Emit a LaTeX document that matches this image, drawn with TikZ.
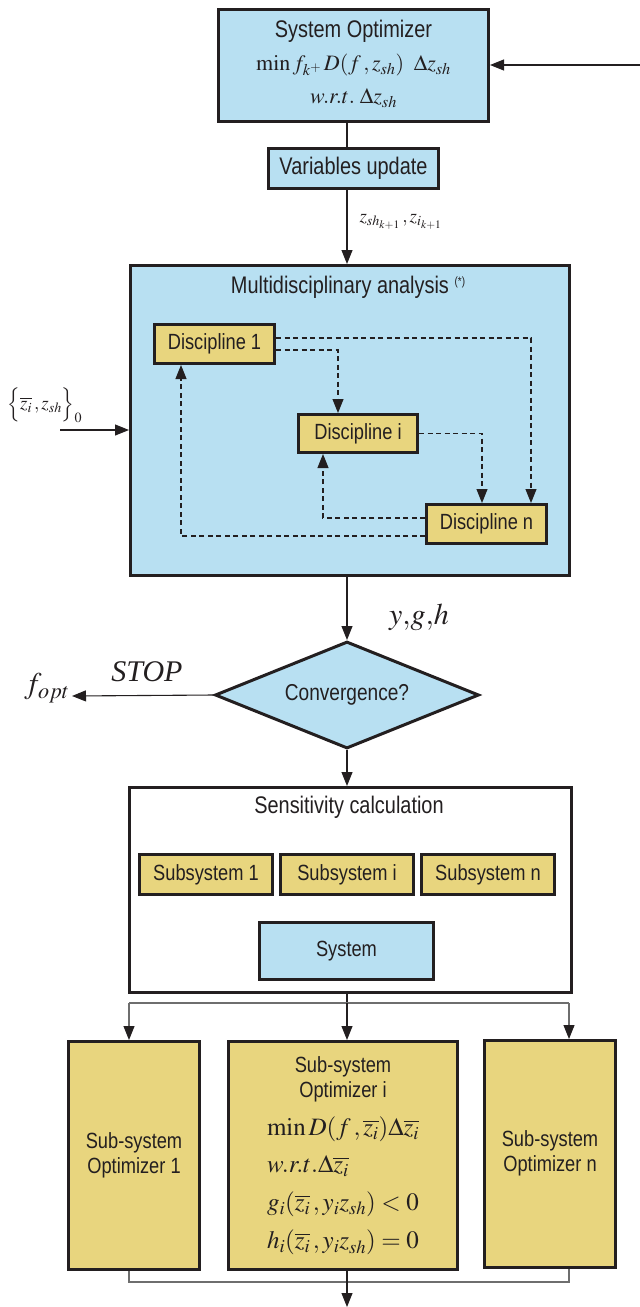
\documentclass[tikz,border=0pt]{standalone}
\usepackage{mathptmx}
\usepackage[no-math]{fontspec}
\setmainfont{Liberation Sans}[FakeStretch=0.83]
\newfontfamily\tms{Liberation Serif}
\usetikzlibrary{shapes.geometric,arrows.meta}
\definecolor{bl}{RGB}{184,224,242}
\definecolor{yl}{RGB}{232,213,126}
\definecolor{dk}{RGB}{35,31,32}
\definecolor{gr}{RGB}{110,110,110}
\begin{document}
\begin{tikzpicture}[x=1pt,y=-1pt,
  every node/.style={text=dk},
  tbox/.style={draw=dk, line width=3pt, inner sep=0pt, anchor=north west, font=\fontsize{24}{27}\selectfont},
  bluebox/.style={tbox, fill=bl},
  yelbox/.style={tbox, fill=yl, font=\fontsize{22}{25}\selectfont},
  tip/.style={-{Triangle[length=14pt,width=11pt,color=dk]}},
  ln/.style={draw=dk, line width=1.1pt},
  arr/.style={ln, tip},
  darr/.style={draw=dk, line width=1.1pt, dash pattern=on 5pt off 3.5pt, tip},
  grl/.style={draw=gr, line width=1.1pt},
  grarr/.style={grl, tip}]
\useasboundingbox (0,0) rectangle (640,1307);
\coordinate (ax) at (347,0);

% System optimizer
\node[bluebox, minimum width=270pt, minimum height=112pt] (sysopt) at (217,8)
  {\begin{tabular}{@{}c@{}}System Optimizer\\[6pt]
   {\fontsize{22}{27}\selectfont$\min f_{k^{+}}\, D(f\,,z_{sh})\;\;\Delta z_{sh}$}\\[6pt]
   {\fontsize{22}{27}\selectfont$w.r.t.\;\Delta z_{sh}$}\end{tabular}};
\coordinate (rin) at (640,65);
\draw[arr] (rin) -- (sysopt.east |- rin);

% Variables update
\node[bluebox, minimum width=170pt, minimum height=40pt] (varup) at (267,147) {Variables update};
\draw[ln] (sysopt.south -| ax) -- (varup.north -| ax);
\node[anchor=west, font=\fontsize{19}{22}\selectfont] (zlab) at (356,222) {$z_{sh_{k+1}}\,,z_{i_{k+1}}$};

% Multidisciplinary analysis
\node[bluebox, minimum width=439pt, minimum height=310pt] (mda) at (129,264) {};
\draw[arr] (varup.south -| ax) -- (mda.north -| ax);
\node[anchor=base, font=\fontsize{24}{27}\selectfont] (mdat) at (348,293)
  {Multidisciplinary analysis \raisebox{8pt}{\fontsize{12}{12}\selectfont(*)}};
\node[yelbox, minimum width=120pt, minimum height=39pt] (d1) at (153,323) {Discipline 1};
\node[yelbox, minimum width=119pt, minimum height=38pt] (di) at (297,413) {Discipline i};
\node[yelbox, minimum width=120pt, minimum height=39pt] (dn) at (425,503) {Discipline n};
\draw[darr] ([yshift=-15pt]d1.north east) -| ([xshift=-17pt]dn.north east);
\draw[darr] ([yshift=-27pt]d1.north east) -| ([xshift=41pt]di.north west);
\draw[darr] (di.east) -| ([xshift=57pt]dn.north west);
\draw[darr] ([yshift=27pt]dn.south west) -| ([xshift=26pt]di.south west);
\draw[darr] ([yshift=9pt]dn.south west) -| ([xshift=28pt]d1.south west);

% initial values
\node[anchor=west, font=\fontsize{19}{22}\selectfont] (zin) at (4,405) {$\Big\{\overline{z_i}\,,z_{sh}\Big\}_0$};
\coordinate (lin) at (60,430);
\draw[arr] (lin) -- (mda.west |- lin);

% Convergence
\node[diamond, draw=dk, line width=3pt, fill=bl, inner sep=0pt, aspect=2.47,
  minimum width=264pt, minimum height=107pt, font=\fontsize{23}{26}\selectfont] (conv) at (347,695) {Convergence?};
\draw[arr] (mda.south -| ax) -- (conv.north);
\node[font=\fontsize{30}{30}\selectfont] (ygh) at (419,617) {$y{,}g{,}h$};
\coordinate (fo) at (72,696);
\draw[arr] (conv.west) -- (fo);
\node[font=\fontsize{30}{30}\tms\itshape] (stop) at (147,672) {STOP};
\node[font=\fontsize{30}{30}\selectfont] (fopt) at (47,688) {$f_{opt}$};

% Sensitivity calculation
\node[tbox, fill=white, minimum width=442pt, minimum height=205pt] (sens) at (128,786) {};
\draw[arr] (conv.south) -- (sens.north -| ax);
\node[anchor=base, font=\fontsize{24}{27}\selectfont] (senst) at (349,813) {Sensitivity calculation};
\node[yelbox, minimum width=133pt, minimum height=40pt] (s1) at (138,853) {Subsystem 1};
\node[yelbox, minimum width=133pt, minimum height=40pt] (si) at (279,853) {Subsystem i};
\node[yelbox, minimum width=133pt, minimum height=40pt] (sn) at (420,853) {Subsystem n};
\node[bluebox, minimum width=174pt, minimum height=57pt, font=\fontsize{22}{25}\selectfont] (sys) at (258,921) {System};

% Sub-system optimizers
\node[yelbox, minimum width=131pt, minimum height=228pt] (so1) at (67,1040)
  {\begin{tabular}{@{}c@{}}Sub-system\\Optimizer 1\end{tabular}};
\node[yelbox, minimum width=229pt, minimum height=228pt] (soi) at (227,1040)
  {\begin{tabular}{@{}l@{}}
   \multicolumn{1}{@{}c@{}}{Sub-system}\\
   \multicolumn{1}{@{}c@{}}{Optimizer i}\\[12pt]
   {\fontsize{25}{25}\selectfont$\min D(f\,,\overline{z_i})\Delta\overline{z_i}$}\\[12pt]
   {\fontsize{25}{25}\selectfont$w.r.t.\Delta\overline{z_i}$}\\[12pt]
   {\fontsize{25}{25}\selectfont$g_i(\overline{z_i}\,,y_i z_{sh})<0$}\\[12pt]
   {\fontsize{25}{25}\selectfont$h_i(\overline{z_i}\,,y_i z_{sh})=0$}
   \end{tabular}};
\node[yelbox, minimum width=131pt, minimum height=227pt] (son) at (483,1039)
  {\begin{tabular}{@{}c@{}}Sub-system\\Optimizer n\end{tabular}};

\coordinate (sp) at (347,1003);
\coordinate (lx) at (129,1003);
\coordinate (rx) at (569,1003);
\draw[ln] (sens.south -| ax) -- (sp);
\draw[grl] (lx) -- (rx);
\draw[grarr] (lx) -- (so1.north -| lx);
\draw[arr] (sp) -- (soi.north -| ax);
\draw[grarr] (rx) -- (son.north -| rx);

\coordinate (bl) at (129,1282);
\coordinate (br) at (569,1282);
\coordinate (bend) at (347,1307);
\draw[grl] (so1.south -| bl) -- (bl) -- (br) -- (son.south -| br);
\draw[arr] (soi.south -| ax) -- (bend);
\end{tikzpicture}
\end{document}
